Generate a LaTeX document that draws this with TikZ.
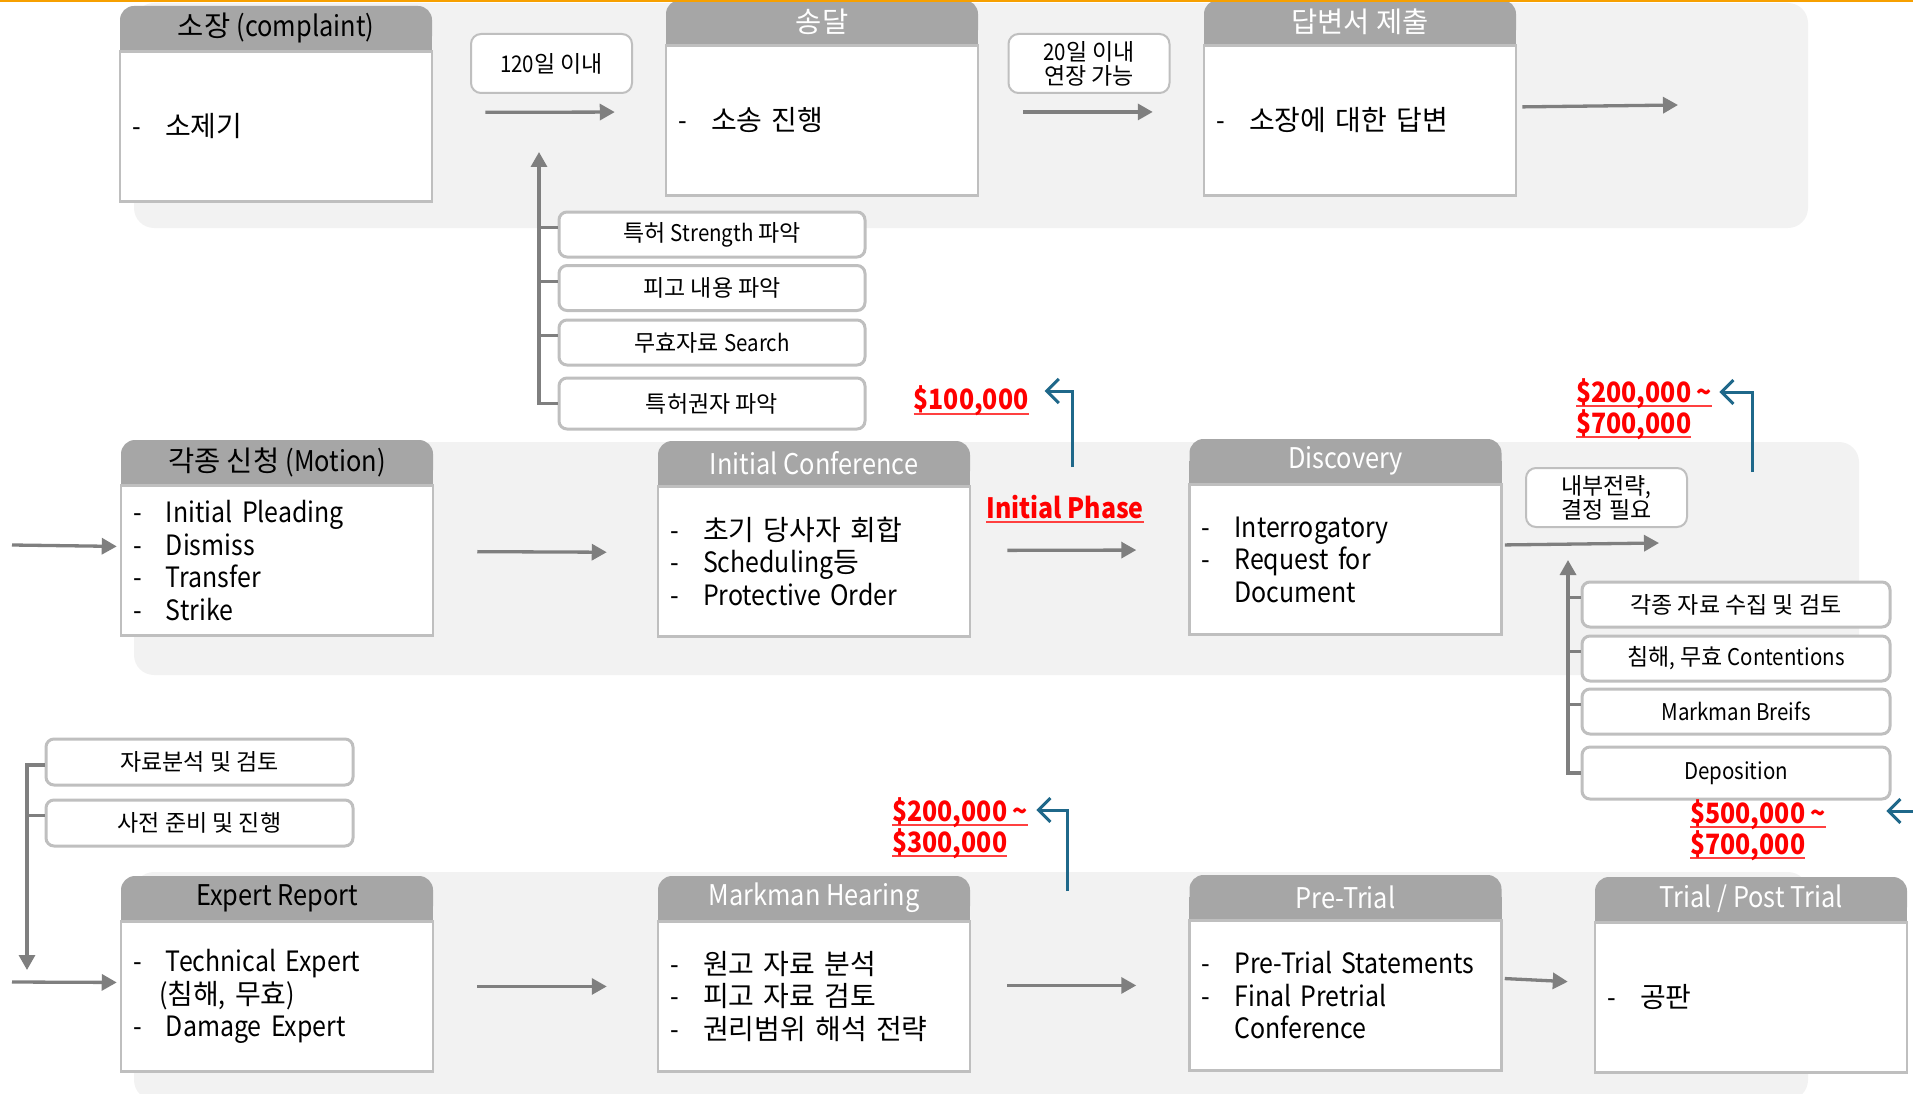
\documentclass[tikz,border=0pt]{standalone}
\usepackage{fontspec}
\setmainfont{Noto Sans CJK KR}[FakeStretch=0.89]
\newfontfamily\krfont{Noto Sans CJK KR}
% Hangul in the unstretched face, Latin in the narrowed one
\XeTeXinterchartokenstate=1
\newXeTeXintercharclass\hangulclass
\count255="AC00
\loop\ifnum\count255<"D7A4 \XeTeXcharclass\count255=\hangulclass \advance\count255 by 1 \repeat
\XeTeXinterchartoks 0 \hangulclass = {\krfont}
\XeTeXinterchartoks 4095 \hangulclass = {\krfont}
\XeTeXinterchartoks \hangulclass 0 = {\rmfamily}
\XeTeXinterchartoks 4095 0 = {\rmfamily}
\usetikzlibrary{positioning, arrows.meta, backgrounds}
\definecolor{bandgray}{RGB}{242,242,242}
\definecolor{headgray}{RGB}{166,166,166}
\definecolor{linegray}{RGB}{191,191,191}
\definecolor{arrowgray}{RGB}{127,127,127}
\definecolor{costblue}{RGB}{31,104,138}
\definecolor{costred}{RGB}{255,0,0}
\definecolor{topline}{RGB}{247,160,0}
\newcommand{\itm}[1]{\makebox[33pt][l]{-}\mbox{#1}}
\newcommand{\costul}[1]{\sbox0{#1}\rlap{\smash{\color{costred!75}\rule[-5pt]{\wd0}{2pt}}}\usebox0}
\tikzset{
    band/.style={fill=bandgray, rounded corners=20pt},
    stagehead/.style={rectangle, rounded corners=14pt, fill=headgray, minimum width=312pt, minimum height=44pt, inner sep=0pt, font=\fontsize{28.5}{30}\selectfont},
    stagebody/.style={rectangle, draw=linegray, line width=2.5pt, fill=white, text width=288pt, inner xsep=12pt, minimum height=150pt, align=left, font=\fontsize{28}{32.5}\selectfont},
    note/.style={rectangle, rounded corners=10pt, draw=linegray, line width=2pt, fill=white, minimum width=161pt, minimum height=59pt, align=center, font=\fontsize{23}{24}\selectfont},
    task/.style={rectangle, rounded corners=8pt, draw=linegray, line width=3pt, fill=white, minimum width=306pt, minimum height=45pt, inner sep=0pt, font=\fontsize{23}{25}\selectfont},
    cost/.style={text=costred, font=\bfseries\fontsize{28}{29}\selectfont, align=left, inner sep=0pt},
    flow/.style={-{Triangle[length=15pt,width=16pt]}, line width=3.3pt, arrowgray},
    branch/.style={line width=3pt, arrowgray},
    costflow/.style={-{Straight Barb[length=12pt,width=24pt]}, line width=3pt, costblue}
}

\begin{document}
\begin{tikzpicture}[x=1pt, y=-1pt]
    \useasboundingbox (0,0) rectangle (1913,1094);

    % Complaint row
    \node[stagehead] (cmph) at (276,28) {소장 (complaint)};
    \node[stagebody, below=0pt of cmph] (cmpb) {\itm{소제기}};
    \node[stagehead, text=white] (svch) at (822,22) {송달};
    \node[stagebody, below=0pt of svch] (svcb) {\itm{소송 진행}};
    \node[stagehead, text=white] (ansh) at (1360,22) {답변서 제출};
    \node[stagebody, below=0pt of ansh] (ansb) {\itm{소장에 대한 답변}};

    \node[note] (n120) at (551.5,63.5) {120일 이내};
    \node[note] (n20) at (1089,63.5) {20일 이내\\연장 가능};

    % Pre-filing checks
    \node[task] (t1) at (712,234.5) {특허 Strength 파악};
    \node[task] (t2) at (712,288) {피고 내용 파악};
    \node[task] (t3) at (712,342.5) {무효자료 Search};
    \node[task, minimum height=51pt] (t4) at (712,403.5) {특허권자 파악};
    \coordinate (tup) at (539,152);

    % Motion row
    \node[stagehead] (moth) at (277,462) {각종 신청 (Motion)};
    \node[stagebody, below=0pt of moth] (motb) {\itm{Initial Pleading}\\\itm{Dismiss}\\\itm{Transfer}\\\itm{Strike}};
    \node[stagehead, text=white] (inih) at (814,463) {Initial Conference};
    \node[stagebody, below=0pt of inih] (inib) {\itm{초기 당사자 회합}\\\itm{Scheduling등}\\\itm{Protective Order}};
    \node[stagehead, text=white] (dish) at (1345.5,461) {Discovery};
    \node[stagebody, below=0pt of dish] (disb) {\itm{Interrogatory}\\\itm{Request for}\\\hspace*{33pt}Document};

    \node[note] (nin) at (1606.5,497.5) {내부전략,\\결정 필요};
    \node[cost] (phase) at (1065,507) {\costul{Initial Phase}};

    % Discovery checks
    \node[task, minimum width=308pt] (d1) at (1736,604.5) {각종 자료 수집 및 검토};
    \node[task, minimum width=308pt] (d2) at (1736,658.5) {침해, 무효 Contentions};
    \node[task, minimum width=308pt] (d3) at (1736,711.5) {Markman Breifs};
    \node[task, minimum width=308pt, minimum height=52pt] (d4) at (1736,773) {Deposition};
    \coordinate (dup) at (1568,560);

    % Expert row
    \node[stagehead] (exph) at (277,898) {Expert Report};
    \node[stagebody, below=0pt of exph] (expb) {\itm{Technical Expert}\\\hspace*{26pt}(침해, 무효)\\\itm{Damage Expert}};
    \node[stagehead, text=white] (mkhh) at (814,898) {Markman Hearing};
    \node[stagebody, below=0pt of mkhh] (mkhb) {\itm{원고 자료 분석}\\\itm{피고 자료 검토}\\\itm{권리범위 해석 전략}};
    \node[stagehead, text=white] (preh) at (1345.5,897) {Pre-Trial};
    \node[stagebody, below=0pt of preh] (preb) {\itm{Pre-Trial Statements}\\\itm{Final Pretrial}\\\hspace*{33pt}Conference};
    \node[stagehead, text=white] (trih) at (1751,899) {Trial / Post Trial};
    \node[stagebody, below=0pt of trih] (trib) {\itm{공판}};

    % Expert preparation
    \node[task, minimum width=307pt, minimum height=46pt] (e1) at (199.5,762) {자료분석 및 검토};
    \node[task, minimum width=307pt, minimum height=46pt] (e2) at (199.5,823) {사전 준비 및 진행};
    \coordinate (edown) at (27,970);

    % Costs
    \node[cost] (cost1) at (971,401) {\costul{\$100,000}};
    \node[cost, anchor=north west] (cost2) at (1576,378) {\costul{\$200,000 \textasciitilde}\\\costul{\$700,000}};
    \node[cost, anchor=north west] (cost3) at (892,797) {\costul{\$200,000 \textasciitilde}\\\costul{\$300,000}};
    \node[cost, anchor=north west] (cost4) at (1690,799) {\costul{\$500,000 \textasciitilde}\\\costul{\$700,000}};

    % Free ends
    \coordinate (motin) at (12,545);
    \coordinate (expin) at (12,982);
    \coordinate (ansout) at (1678,105);
    \coordinate (disout) at (1659,543);
    \coordinate (c1) at (1072,467);
    \coordinate (c2) at (1752,472);
    \coordinate (c3) at (1067,891);
    \coordinate (c4) at (1925,811);

    % Main flow
    \draw[flow, shorten <=52pt, shorten >=50pt] ([yshift=14pt]cmpb.east) -- ([yshift=8.5pt]svcb.west);
    \draw[flow, shorten <=44pt, shorten >=50pt] ([yshift=8.5pt]svcb.east) -- ([yshift=8.5pt]ansb.west);
    \draw[flow, shorten <=5pt] ([yshift=13.5pt]ansb.east) -- (ansout);
    \draw[flow, shorten >=3pt] (motin) -- ([yshift=14pt]motb.west);
    \draw[flow, shorten <=43pt, shorten >=50pt] ([yshift=9pt]motb.east) -- ([yshift=9pt]inib.west);
    \draw[flow, shorten <=36pt, shorten >=52pt] ([yshift=11pt]inib.east) -- ([yshift=9.5pt]disb.west);
    \draw[flow, shorten <=2pt] ([yshift=14.5pt]disb.east) -- (disout);
    \draw[flow, shorten >=3pt] (expin) -- ([yshift=14pt]expb.west);
    \draw[flow, shorten <=43pt, shorten >=50pt] ([yshift=10pt]expb.east) -- ([yshift=10pt]mkhb.west);
    \draw[flow, shorten <=36pt, shorten >=52pt] ([yshift=11pt]mkhb.east) -- ([yshift=10pt]preb.west);
    \draw[flow, shorten <=2pt, shorten >=26pt] ([yshift=17pt]preb.east) -- ([yshift=14.5pt]trib.west);

    % Branches
    \draw[flow] (t4.west) -| (tup);
    \foreach \t in {t1,t2,t3} \draw[branch] ([yshift=7pt]\t.west) -- ([yshift=7pt]\t.west -| tup);
    \draw[flow] (d4.west) -| (dup);
    \foreach \t in {d1,d2,d3} \draw[branch] ([yshift=7pt]\t.west) -- ([yshift=7pt]\t.west -| dup);
    \draw[flow] ([yshift=-3pt]e1.west) -| (edown);
    \draw[branch] ([yshift=8pt]e2.west) -- ([yshift=8pt]e2.west -| edown);

    % Cost arrows
    \draw[costflow] (c1) |- ([xshift=16pt,yshift=10pt]cost1.east);
    \draw[costflow] (c2) |- ([xshift=7pt,yshift=-14pt]cost2.north east);
    \draw[costflow] (c3) |- ([xshift=8pt,yshift=-13pt]cost3.north east);
    \draw[costflow] (c4) -- ([xshift=60pt,yshift=-12pt]cost4.north east);

    \draw[topline, line width=2.5pt] (0,1) -- (1913,1);

    \begin{scope}[on background layer]
        \fill[band] (134,3) rectangle (1808,228);
        \fill[band] (134,442) rectangle (1859,675);
        \fill[band] (134,872) rectangle (1808,1100);
        \foreach \h in {cmph,svch,ansh,moth,inih,dish,exph,mkhh,preh,trih}
            \fill[headgray] (\h.west) rectangle (\h.south east);
    \end{scope}
\end{tikzpicture}
\end{document}
